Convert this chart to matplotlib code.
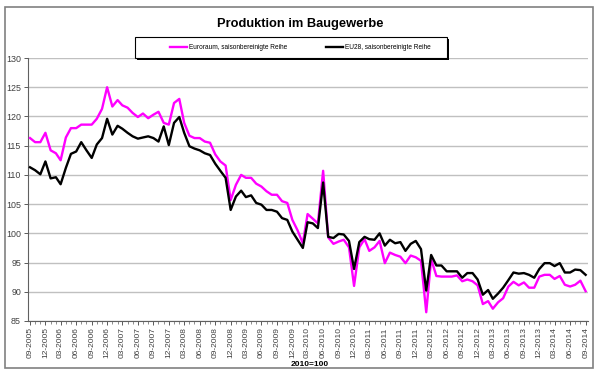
import numpy as np
import pandas as pd
import matplotlib
matplotlib.use("Agg")
import matplotlib.pyplot as plt
import matplotlib.dates as mdates
from matplotlib.patches import Rectangle

plt.rcParams['font.family'] = ['Liberation Sans', 'DejaVu Sans']

# monthly index, 09-2005 .. 09-2014 (2010=100)
months = pd.date_range("2005-09-01", "2014-09-01", freq="MS")

euroraum = [
    116.3, 115.6, 115.6, 117.2, 114.2, 113.7, 112.5, 116.4, 118.0, 118.0,
    118.6, 118.6, 118.6, 119.6, 121.3, 125.0, 121.7, 122.8, 121.9, 121.5,
    120.6, 119.9, 120.5, 119.7, 120.3, 120.8, 118.9, 118.6, 122.3, 123.0,
    118.9, 116.7, 116.3, 116.3, 115.7, 115.5, 113.5, 112.3, 111.6, 105.7,
    108.3, 110.0, 109.5, 109.5, 108.5, 108.0, 107.2, 106.6, 106.6, 105.5,
    105.2, 102.3, 100.5, 98.3, 103.3, 102.5, 101.7, 110.7, 99.3, 98.2,
    98.6, 98.9, 97.6, 91.0, 97.6, 99.0, 97.0, 97.6, 98.7, 94.9,
    96.7, 96.3, 96.0, 94.9, 96.2, 95.9, 95.3, 86.5, 95.6, 92.7,
    92.6, 92.6, 92.6, 92.8, 91.8, 92.1, 91.8, 91.1, 87.9, 88.4,
    87.1, 88.2, 88.9, 90.9, 91.7, 91.1, 91.6, 90.7, 90.7, 92.6,
    92.9, 92.9, 92.2, 92.7, 91.2, 90.9, 91.2, 91.9, 90.1,
]

eu28 = [
    111.3, 110.8, 110.1, 112.3, 109.4, 109.6, 108.4, 111.2, 113.6, 114.0,
    115.6, 114.2, 112.9, 115.2, 116.3, 119.6, 116.9, 118.4, 117.9, 117.2,
    116.6, 116.2, 116.4, 116.6, 116.3, 115.7, 118.3, 115.1, 118.9, 119.9,
    117.2, 114.9, 114.5, 114.2, 113.7, 113.4, 111.9, 110.7, 109.5, 104.0,
    106.3, 107.3, 106.2, 106.5, 105.2, 104.9, 104.0, 104.0, 103.7, 102.6,
    102.3, 100.3, 98.9, 97.5, 101.9, 101.7, 100.9, 108.7, 99.4, 99.2,
    99.9, 99.8, 98.7, 93.9, 98.5, 99.4, 99.0, 98.9, 100.0, 97.9,
    98.9, 98.3, 98.5, 97.0, 98.2, 98.7, 97.3, 90.2, 96.3, 94.5,
    94.5, 93.5, 93.5, 93.5, 92.4, 93.2, 93.2, 92.1, 89.5, 90.3,
    88.8, 89.7, 90.7, 92.0, 93.3, 93.1, 93.2, 92.9, 92.4, 93.9,
    94.9, 94.9, 94.4, 94.9, 93.3, 93.3, 93.8, 93.7, 92.9,
]

y_ticks = np.arange(85, 131, 5)

W, H = 600, 385
fig = plt.figure(figsize=(6.0, 3.85), dpi=100)
ax = fig.add_axes([28 / W, 1 - 321 / H, 560 / W, 263 / H])

# outer gray frame
fig.patches.append(Rectangle((5 / W, 1 - 368 / H), 588 / W, 361 / H,
                             transform=fig.transFigure, fill=False,
                             edgecolor="#808080", linewidth=1.2))

ax.plot(months, euroraum, color="#FF00FF", linewidth=1.7,
        label="Euroraum, saisonbereinigte Reihe", zorder=3)
ax.plot(months, eu28, color="black", linewidth=1.7,
        label="EU28, saisonbereinigte Reihe", zorder=4)

ax.set_ylim(85, 130)
ax.set_yticks(y_ticks)
ax.set_xlim(months[0] - pd.Timedelta(days=12), months[-1] + pd.Timedelta(days=14))
ax.grid(axis="y", color="#C0C0C0", linewidth=1)
ax.set_axisbelow(True)

ax.xaxis.set_major_locator(mdates.MonthLocator(bymonth=[3, 6, 9, 12]))
ax.xaxis.set_minor_locator(mdates.MonthLocator())
ax.xaxis.set_major_formatter(mdates.DateFormatter("%m-%Y"))
ax.tick_params(axis="x", which="major", labelsize=6.0, rotation=90,
               length=3, width=0.6, colors="#404040", pad=1.5)
ax.tick_params(axis="x", which="minor", length=2, width=0.5, colors="#606060")
ax.tick_params(axis="y", labelsize=6.4, length=3, width=0.6,
               colors="#404040", pad=2)

for s in ["top", "right"]:
    ax.spines[s].set_visible(False)
for s in ["left", "bottom"]:
    ax.spines[s].set_color("#606060")
    ax.spines[s].set_linewidth(0.8)

fig.text(0.5, 1 - 24 / H, "Produktion im Baugewerbe", ha="center",
         va="center", fontsize=9.3, fontweight="bold")
fig.text(310 / W, 1 - 364 / H, "2010=100", ha="center", va="center",
         fontsize=6, fontweight="bold")

# legend box with hard shadow
fig.patches.append(Rectangle((137 / W, 1 - 60 / H), 312 / W, 21 / H,
                             transform=fig.transFigure, facecolor="black",
                             edgecolor="none", zorder=5))
fig.patches.append(Rectangle((135 / W, 1 - 58 / H), 312 / W, 21 / H,
                             transform=fig.transFigure, facecolor="white",
                             edgecolor="black", linewidth=0.8, zorder=6))
leg = fig.legend(loc="center left", ncol=2, fontsize=4.7, frameon=False,
                 bbox_to_anchor=(170 / W, 1 - 47.5 / H), borderpad=0,
                 borderaxespad=0, handlelength=2.6, handletextpad=0.3,
                 columnspacing=6)
leg.set_zorder(7)

fig.savefig("out.png", dpi=100)
